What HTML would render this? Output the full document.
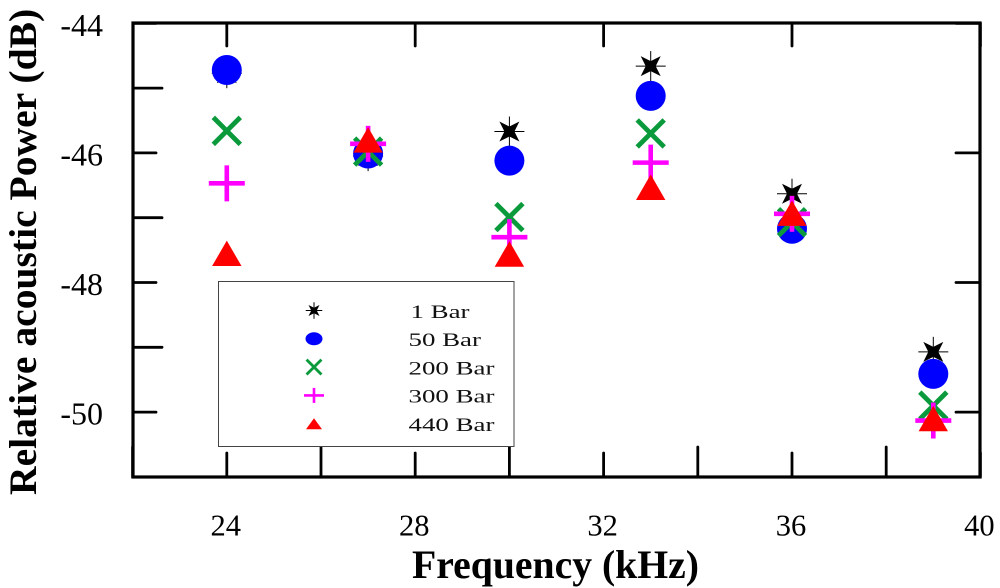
<!DOCTYPE html>
<html lang="en">
<head>
<meta charset="utf-8">
<title>Relative acoustic power vs frequency</title>
<style>
  html, body { margin: 0; padding: 0; background: #fff; }
  #chart { display: block; width: 1000px; height: 588px; font-family: "Liberation Serif", serif; }
</style>
</head>
<body>
<svg id="chart" xmlns="http://www.w3.org/2000/svg" width="1000" height="588" viewBox="0 0 1000 588">
  <g id="ticks"></g>
  <g id="axis-labels"></g>
  <rect x="133" y="23" width="847" height="454" fill="none" stroke="#000" stroke-width="3.2"/>
  <text x="412" y="578" font-size="39.7" font-weight="bold" fill="#000">Frequency (kHz)</text>
  <text transform="translate(36,495) rotate(-90)" font-size="39.6" font-weight="bold" fill="#000">Relative acoustic Power (dB)</text>
  <g id="marks"></g>
  <g id="legend">
    <rect x="218.5" y="281.5" width="295.5" height="165" fill="#fff" stroke="#444" stroke-width="1"/>
  </g>
</svg>
<script>
const frequencies = [24, 27, 30, 33, 36, 39];
const seriesNames = ["1 Bar", "50 Bar", "200 Bar", "300 Bar", "440 Bar"];
const bar1 = [-44.77, -46.05, -45.67, -44.66, -46.63, -49.07];
const bar50 = [-44.72, -46.01, -46.12, -45.12, -47.17, -49.41];
const bar200 = [-45.66, -45.98, -46.99, -45.7, -47.07, -49.9];
const bar300 = [-46.47, -45.86, -47.3, -46.15, -46.94, -50.13];
const bar440 = [-47.55, -45.8, -47.56, -46.53, -46.93, -50.1];
const xMajorTicks = [24, 28, 32, 36, 40];
const xMinorTicks = [22, 26, 30, 34, 38];
const yMajorTicks = [-44, -46, -48, -50];
const yMinorTicks = [-45, -47, -49, -51];

const NS = "http://www.w3.org/2000/svg";
const xScale = f => 226.8 + (f - 24) * 47.1;
const yScale = v => 23.3 + (-44 - v) * 64.8;

function make(parent, tag, attrs) {
  const el = document.createElementNS(NS, tag);
  for (const k in attrs) el.setAttribute(k, attrs[k]);
  parent.appendChild(el);
  return el;
}

const tickLayer = document.getElementById("ticks");
const labelLayer = document.getElementById("axis-labels");
const markLayer = document.getElementById("marks");
const legendLayer = document.getElementById("legend");

function tickLine(x1, y1, x2, y2) {
  const t = make(tickLayer, "line", { x1: x1, y1: y1, x2: x2, y2: y2, stroke: "#000", "stroke-width": 2.8, "stroke-linecap": "round" });
  
  
}

xMajorTicks.forEach(f => {
  const x = xScale(f);
  tickLine(x, 477, x, 453);
  tickLine(x, 23, x, 46);
  const label = make(labelLayer, "text", { x: x - 1, y: 535.5, "font-size": 30.5, "text-anchor": "middle", fill: "#000" });
  label.textContent = String(f);
  
  
});
xMinorTicks.forEach(f => {
  const x = xScale(f);
  tickLine(x, 477, x, 447);
});
yMajorTicks.forEach(v => {
  const y = yScale(v);
  tickLine(133, y, 156, y);
  tickLine(980, y, 956, y);
  const label = make(labelLayer, "text", { x: 103, y: y + 12.5, "font-size": 32, "text-anchor": "end", fill: "#000" });
  label.textContent = String(v);
  
  
});
yMinorTicks.forEach(v => {
  const y = yScale(v);
  tickLine(133, y, 162, y);
});

function drawStar(g, x, y, s) {
  const r = 10 * s, i = 5 * s, c = 15 * s;
  const pts = [[0, -i], [r, -r], [i, 0], [r, r], [0, i], [-r, r], [-i, 0], [-r, -r]]
    .map(p => (x + p[0]) + "," + (y + p[1])).join(" ");
  make(g, "polygon", { points: pts, fill: "#000" });
  make(g, "line", { x1: x - c, y1: y, x2: x + c, y2: y, stroke: "#000", "stroke-width": 1 });
  make(g, "line", { x1: x, y1: y - c, x2: x, y2: y + c, stroke: "#000", "stroke-width": 1 });
}
function drawCircle(g, x, y) {
  make(g, "circle", { cx: x, cy: y, r: 15, fill: "#0000ff" });
}
function drawCross(g, x, y, s) {
  const r = 13.5 * s;
  const common = { stroke: "#0a9a3c", "stroke-width": 4.4 * s + 0.4 };
  make(g, "line", Object.assign({ x1: x - r, y1: y - r, x2: x + r, y2: y + r }, common));
  make(g, "line", Object.assign({ x1: x - r, y1: y + r, x2: x + r, y2: y - r }, common));
}
function drawPlus(g, x, y, rx, ry, w) {
  const common = { stroke: "#ff00ff", "stroke-width": w };
  make(g, "line", Object.assign({ x1: x - rx, y1: y, x2: x + rx, y2: y }, common));
  make(g, "line", Object.assign({ x1: x, y1: y - ry, x2: x, y2: y + ry }, common));
}
function drawTriangle(g, x, y, hw, hh) {
  const pts = [[x, y - hh], [x + hw, y + hh], [x - hw, y + hh]].map(p => p.join(",")).join(" ");
  make(g, "polygon", { points: pts, fill: "#ff0000" });
}

const plotters = [
  (g, x, y) => drawStar(g, x, y, 1),
  (g, x, y) => drawCircle(g, x, y),
  (g, x, y) => drawCross(g, x, y, 1),
  (g, x, y) => drawPlus(g, x, y, 18, 18, 4.6),
  (g, x, y) => drawTriangle(g, x, y, 14.7, 12.7)
];
const seriesValues = [bar1, bar50, bar200, bar300, bar440];

seriesValues.forEach((values, s) => {
  const group = make(markLayer, "g", {});
  
  
  values.forEach((v, i) => {
    const g = make(group, "g", {});
    
    
    plotters[s](g, xScale(frequencies[i]), yScale(v));
  });
});

const legendPlotters = [
  (g, x, y) => drawStar(g, x, y, 0.55),
  (g, x, y) => make(g, "ellipse", { cx: x, cy: y, rx: 8.5, ry: 6.5, fill: "#0000ff" }),
  (g, x, y) => drawCross(g, x, y, 0.55),
  (g, x, y) => drawPlus(g, x, y, 10, 7.5, 2.6),
  (g, x, y) => drawTriangle(g, x, y, 8, 5.5)
];
seriesNames.forEach((name, i) => {
  const y = 310.5 + i * 28.3;
  const entry = make(legendLayer, "g", {});
  
  
  legendPlotters[i](entry, 314, y);
  const label = make(entry, "text", {
    transform: "translate(" + (i === 0 ? 410.5 : 408.5) + "," + (y + 7.3) + ") scale(1.38,1)",
    "font-size": 19.5,
    fill: "#111"
  });
  label.textContent = name;
  
  
});
</script>
</body>
</html>
